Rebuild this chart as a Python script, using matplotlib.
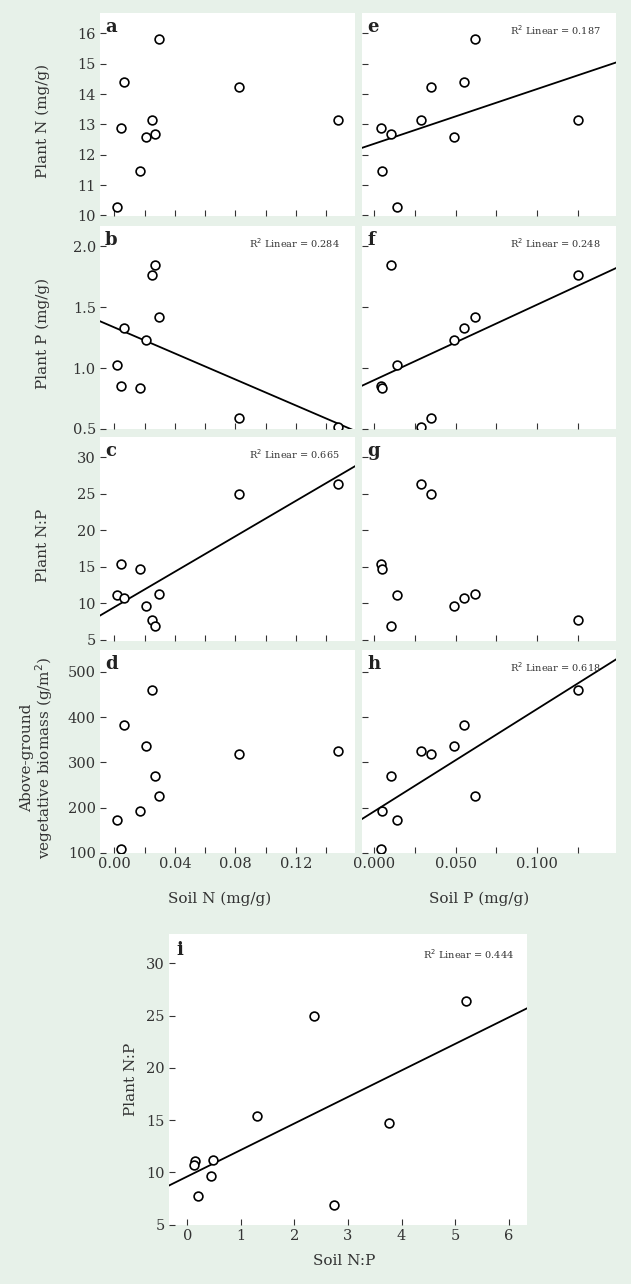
import numpy as np
import matplotlib.pyplot as plt

plt.rcParams['font.family'] = ['DejaVu Serif']

# ten sites, same order in every panel
soil_n = [0.0016, 0.0044, 0.0066, 0.0168, 0.0209, 0.0247, 0.0271, 0.0293, 0.0821, 0.1475]
soil_p = [0.0143, 0.0041, 0.0551, 0.0047, 0.0487, 0.1250, 0.0102, 0.0616, 0.0349, 0.0286]
soil_np = [0.14, 1.31, 0.13, 3.76, 0.45, 0.20, 2.74, 0.48, 2.37, 5.21]
plant_n = [10.27, 12.88, 14.39, 11.47, 12.58, 13.14, 12.67, 15.80, 14.24, 13.15]
plant_p = [1.027, 0.849, 1.331, 0.840, 1.233, 1.765, 1.844, 1.416, 0.588, 0.514]
plant_np = [11.1, 15.37, 10.7, 14.68, 9.63, 7.71, 6.9, 11.23, 25.0, 26.35]
biomass = [171.8, 109.5, 382.5, 193.2, 335.7, 459.7, 270.9, 225.5, 318.7, 326.0]

# R2 labels per panel (None = no fit line)
r2_left = [None, '0.284', '0.665', None]
r2_right = ['0.187', '0.248', None, '0.618']
r2_i = '0.444'

bg = '#e7f1e9'
txt = '#333333'
W, H = 631, 1284

fig = plt.figure(figsize=(W / 100, H / 100), dpi=100, facecolor=bg)


def box(l, t, r, b):
    return [l / W, 1 - b / H, (r - l) / W, (b - t) / H]


def style(ax):
    for s in ax.spines.values():
        s.set_visible(False)
    ax.set_facecolor('white')
    ax.tick_params(direction='in', length=4, width=0.8, color=txt,
                   labelsize=10.5, labelcolor=txt, pad=3)


def points(ax, x, y, r2, xlim):
    ax.scatter(x, y, s=40, facecolor='white', edgecolor='black', linewidth=1.2, zorder=3)
    if r2 is not None:
        k, b = np.polyfit(x, y, 1)
        xs = np.array(xlim)
        ax.plot(xs, k * xs + b, color='black', lw=1.3, zorder=2)
        ax.text(0.94, 0.95, 'R$^2$ Linear = ' + r2, transform=ax.transAxes,
                ha='right', va='top', fontsize=7, color=txt)


rows = [(13, 216), (226, 429), (437, 641), (650, 853)]
ys = [plant_n, plant_p, plant_np, biomass]
ylims = [(9.98, 16.67), (0.5, 2.165), (4.85, 32.8), (100, 548)]
yticks = [[10, 11, 12, 13, 14, 15, 16], [0.5, 1.0, 1.5, 2.0],
          [5, 10, 15, 20, 25, 30], [100, 200, 300, 400, 500]]
yticklabels = [None, ['0.5', '1.0', '1.5', '2.0'], None, None]
ylabels = ['Plant N (mg/g)', 'Plant P (mg/g)', 'Plant N:P',
           'Above-ground\nvegetative biomass (g/m$^2$)']
ylabel_x = [-0.196, -0.196, -0.196, -0.176]
letters_l = ['a', 'b', 'c', 'd']
letters_r = ['e', 'f', 'g', 'h']

xlim_l = (-0.0094, 0.1589)
xlim_r = (-0.0074, 0.1483)
xt_l = [0, 0.02, 0.04, 0.06, 0.08, 0.10, 0.12, 0.14]
xtl_l = ['0.00', '', '0.04', '', '0.08', '', '0.12', '']
xt_r = [0, 0.025, 0.05, 0.075, 0.1, 0.125]
xtl_r = ['0.000', '', '0.050', '', '0.100', '']

for i, (t, b) in enumerate(rows):
    for side in (0, 1):
        if side == 0:
            ax = fig.add_axes(box(100, t, 355, b))
            x, xlim, xt, xtl, r2, let = soil_n, xlim_l, xt_l, xtl_l, r2_left[i], letters_l[i]
        else:
            ax = fig.add_axes(box(362, t, 616, b))
            x, xlim, xt, xtl, r2, let = soil_p, xlim_r, xt_r, xtl_r, r2_right[i], letters_r[i]
        style(ax)
        points(ax, x, ys[i], r2, xlim)
        ax.set_xlim(*xlim)
        ax.set_ylim(*ylims[i])
        ax.set_xticks(xt)
        ax.set_yticks(yticks[i])
        if i == 3:
            ax.set_xticklabels(xtl)
        else:
            ax.set_xticklabels([])
        if side == 0:
            if yticklabels[i] is not None:
                ax.set_yticklabels(yticklabels[i])
            ax.set_ylabel(ylabels[i], fontsize=11, color=txt, linespacing=0.95)
            ax.yaxis.set_label_coords(ylabel_x[i], 0.47)
        else:
            ax.set_yticklabels([])
        ax.text(0.02, 0.975, let, transform=ax.transAxes, ha='left', va='top',
                fontsize=13, fontweight='bold', color='#222222')
        if i == 3:
            ax.set_xlabel('Soil N (mg/g)' if side == 0 else 'Soil P (mg/g)',
                          fontsize=11, color=txt)
            ax.xaxis.set_label_coords(0.47 if side == 0 else 0.46, -0.19)

# panel i
ax = fig.add_axes(box(169, 934, 527, 1225))
style(ax)
xlim_i = (-0.34, 6.34)
points(ax, soil_np, plant_np, None, xlim_i)
k, b = np.polyfit(soil_np, plant_np, 1)
xs = np.array(xlim_i)
ax.plot(xs, k * xs + b, color='black', lw=1.3, zorder=2)
ax.text(0.965, 0.955, 'R$^2$ Linear = ' + r2_i, transform=ax.transAxes,
        ha='right', va='top', fontsize=7, color=txt)
ax.set_xlim(*xlim_i)
ax.set_ylim(4.97, 32.8)
ax.set_xticks([0, 1, 2, 3, 4, 5, 6])
ax.set_yticks([5, 10, 15, 20, 25, 30])
ax.set_xlabel('Soil N:P', fontsize=11, color=txt)
ax.xaxis.set_label_coords(0.49, -0.10)
ax.set_ylabel('Plant N:P', fontsize=11, color=txt)
ax.yaxis.set_label_coords(-0.087, 0.5)
ax.text(0.02, 0.975, 'i', transform=ax.transAxes, ha='left', va='top',
        fontsize=13, fontweight='bold', color='#222222')

fig.savefig('out.png', dpi=100, facecolor=bg)
